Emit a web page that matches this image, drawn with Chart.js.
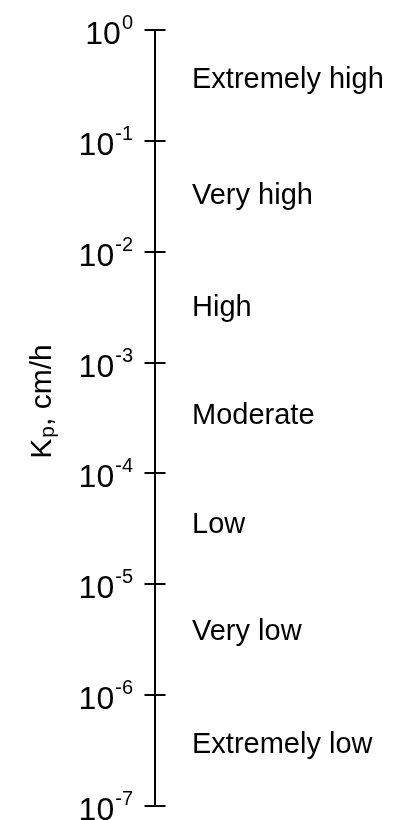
<!DOCTYPE html>
<html><head><meta charset="utf-8">
<style>html,body{margin:0;padding:0;background:#fff}</style>
<script src="https://cdn.jsdelivr.net/npm/chart.js@4"></script></head>
<body><canvas id="c" width="406" height="820"></canvas>
<script>
const tickExponents = [0, -1, -2, -3, -4, -5, -6, -7];
const classNames = ["Extremely high", "Very high", "High", "Moderate", "Low", "Very low", "Extremely low"];
const classPositions = [-0.43, -1.48, -2.49, -3.46, -4.44, -5.41, -6.43];
const titleParts = ["K", "p", ", cm/h"];

const FONT = '"Liberation Sans", Arial, sans-serif';

const drawPlugin = {
  id: 'decor',
  afterDraw(chart) {
    const ctx = chart.ctx;
    const y = chart.scales.y;
    const ax = y.right;
    ctx.save();
    ctx.strokeStyle = '#000';
    ctx.lineWidth = 2;
    tickExponents.forEach(e => {
      const py = Math.round(y.getPixelForValue(Math.pow(10, e)));
      ctx.beginPath();
      ctx.moveTo(ax, py);
      ctx.lineTo(ax + 10.5, py);
      ctx.stroke();
    });
    ctx.fillStyle = '#000';
    tickExponents.forEach(e => {
      const py = y.getPixelForValue(Math.pow(10, e));
      const sup = String(e);
      ctx.font = '20px ' + FONT;
      const sw = ctx.measureText(sup).width;
      const right = ax - 22;
      ctx.textAlign = 'right';
      ctx.textBaseline = 'alphabetic';
      ctx.fillText(sup, right, py - 1);
      ctx.font = '32px ' + FONT;
      ctx.fillText('10', right - sw - 1, py + 14);
    });
    ctx.textAlign = 'left';
    ctx.font = '29px ' + FONT;
    classNames.forEach((n, i) => {
      const py = y.getPixelForValue(Math.pow(10, classPositions[i]));
      ctx.fillText(n, 192, py + 0.716 * 29 / 2);
    });
    ctx.save();
    const cy = 402;
    ctx.translate(51, cy);
    ctx.rotate(-Math.PI / 2);
    ctx.font = '30px ' + FONT;
    const w0 = ctx.measureText(titleParts[0]).width;
    ctx.font = '21px ' + FONT;
    const w1 = ctx.measureText(titleParts[1]).width;
    ctx.font = '30px ' + FONT;
    const w2 = ctx.measureText(titleParts[2]).width;
    let x0 = -(w0 + w1 + w2) / 2;
    ctx.textAlign = 'left';
    ctx.fillText(titleParts[0], x0, 0);
    ctx.font = '21px ' + FONT;
    ctx.fillText(titleParts[1], x0 + w0 + 1, 3);
    ctx.font = '30px ' + FONT;
    ctx.fillText(titleParts[2], x0 + w0 + w1 + 1, 0);
    ctx.restore();
    ctx.restore();
  }
};

new Chart(document.getElementById('c'), {
  type: 'scatter',
  data: { datasets: [{ data: [] }] },
  options: {
    responsive: false,
    animation: false,
    layout: { padding: { top: 30, bottom: 14, left: 0, right: 0 } },
    plugins: { legend: { display: false }, tooltip: { enabled: false } },
    scales: {
      x: { display: false, min: 0, max: 1 },
      y: {
        type: 'logarithmic',
        min: 1e-7, max: 1,
        afterBuildTicks: s => { s.ticks = tickExponents.map(e => ({ value: Math.pow(10, e), major: true })); },
        afterFit: s => { s.width = 155; },
        ticks: { callback: () => '', padding: 0 },
        grid: { drawOnChartArea: false, tickLength: 10.5, color: '#000', lineWidth: 2 },
        border: { color: '#000', width: 2 }
      }
    }
  },
  plugins: [drawPlugin]
});
</script></body></html>
